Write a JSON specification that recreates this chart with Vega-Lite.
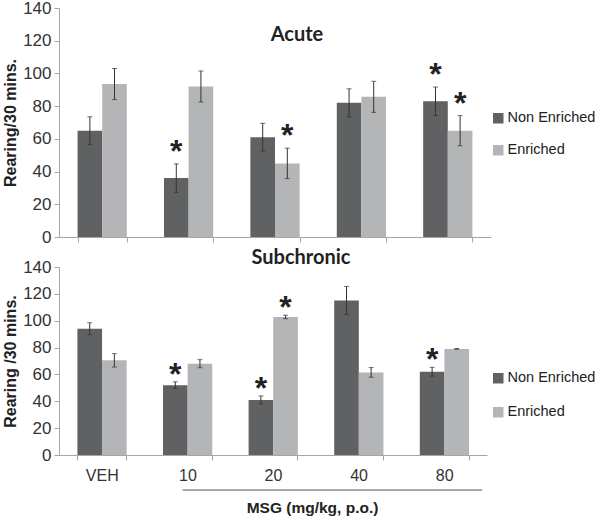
{
  "$schema": "https://vega.github.io/schema/vega-lite/v6.json",
  "background": "white",
  "padding": {"left": 2, "top": -1, "right": 0, "bottom": 0},
  "config": {
    "font": "Liberation Sans",
    "view": {"stroke": null},
    "axis": {"grid": false, "domainColor": "#a6a6a6", "tickColor": "#a6a6a6", "labelColor": "#333333", "titleColor": "#222222", "tickSize": 5},
    "axisY": {"labelOverlap": false, "labelSeparation": 0, "labelBound": false, "tickCount": 8, "labelFontSize": 17, "labelPadding": 3, "titleFontSize": 16, "titleFontWeight": "bold", "titlePadding": 4},
    "legend": {"title": null, "symbolType": "square", "symbolSize": 110, "symbolStrokeWidth": 0, "labelFontSize": 14.5, "labelColor": "#222222", "labelOffset": 2}
  },
  "datasets": {
    "d": [
      {"panel": "Acute", "dose": "VEH", "group": "Non Enriched", "mean": 65, "err": 8.5, "sig": false},
      {"panel": "Acute", "dose": "VEH", "group": "Enriched", "mean": 93.5, "err": 9.5, "sig": false},
      {"panel": "Acute", "dose": "10", "group": "Non Enriched", "mean": 36, "err": 8.7, "sig": true},
      {"panel": "Acute", "dose": "10", "group": "Enriched", "mean": 92, "err": 9.5, "sig": false},
      {"panel": "Acute", "dose": "20", "group": "Non Enriched", "mean": 61, "err": 8.5, "sig": false},
      {"panel": "Acute", "dose": "20", "group": "Enriched", "mean": 45, "err": 9.3, "sig": true},
      {"panel": "Acute", "dose": "40", "group": "Non Enriched", "mean": 82, "err": 8.6, "sig": false},
      {"panel": "Acute", "dose": "40", "group": "Enriched", "mean": 85.7, "err": 9.5, "sig": false},
      {"panel": "Acute", "dose": "80", "group": "Non Enriched", "mean": 83, "err": 8.7, "sig": true},
      {"panel": "Acute", "dose": "80", "group": "Enriched", "mean": 65, "err": 9.2, "sig": true},
      {"panel": "Subchronic", "dose": "VEH", "group": "Non Enriched", "mean": 94, "err": 4.5, "sig": false},
      {"panel": "Subchronic", "dose": "VEH", "group": "Enriched", "mean": 70.5, "err": 5, "sig": false},
      {"panel": "Subchronic", "dose": "10", "group": "Non Enriched", "mean": 52, "err": 2.5, "sig": true},
      {"panel": "Subchronic", "dose": "10", "group": "Enriched", "mean": 68, "err": 3, "sig": false},
      {"panel": "Subchronic", "dose": "20", "group": "Non Enriched", "mean": 41, "err": 3, "sig": true},
      {"panel": "Subchronic", "dose": "20", "group": "Enriched", "mean": 102.8, "err": 1.3, "sig": true},
      {"panel": "Subchronic", "dose": "40", "group": "Non Enriched", "mean": 115, "err": 10.5, "sig": false},
      {"panel": "Subchronic", "dose": "40", "group": "Enriched", "mean": 61.5, "err": 3.6, "sig": false},
      {"panel": "Subchronic", "dose": "80", "group": "Non Enriched", "mean": 62, "err": 3.3, "sig": true},
      {"panel": "Subchronic", "dose": "80", "group": "Enriched", "mean": 79, "err": 0.3, "sig": false}
    ]
  },
  "resolve": {"legend": {"color": "independent"}},
  "spacing": 3,
  "vconcat": [
    {
      "width": 432,
      "height": 229,
      "data": {"name": "d"},
      "title": {"text": "Acute", "font": "Lato", "fontSize": 20, "fontWeight": "bold", "color": "#222222", "anchor": "middle", "dx": 22, "baseline": "middle", "offset": -56},
      "transform": [
        {"filter": "datum.panel === 'Acute'"},
        {"calculate": "datum.mean + datum.err", "as": "hi"},
        {"calculate": "datum.mean - datum.err", "as": "lo"}
      ],
      "encoding": {
        "x": {"field": "dose", "type": "nominal", "sort": ["VEH", "10", "20", "40", "80"], "scale": {"paddingInner": 0.43, "paddingOuter": 0.215}, "axis": {"labels": false, "title": null, "tickBand": "extent"}}
      },
      "layer": [
        {
          "mark": {"type": "bar"},
          "encoding": {
            "xOffset": {"field": "group", "type": "nominal", "sort": ["Non Enriched", "Enriched"], "scale": {"paddingInner": 0, "paddingOuter": 0}},
            "y": {"field": "mean", "type": "quantitative", "scale": {"domain": [0, 140], "nice": false}, "axis": {"values": [0, 20, 40, 60, 80, 100, 120, 140], "labelOverlap": false, "title": "Rearing/30 mins."}},
            "color": {"field": "group", "type": "nominal", "sort": ["Non Enriched", "Enriched"], "scale": {"domain": ["Non Enriched", "Enriched"], "range": ["#606163", "#b4b5b7"]}, "legend": {"orient": "none", "legendX": 432, "legendY": 103, "rowPadding": 17}}
          }
        },
        {
          "mark": {"type": "rule", "color": "#333333", "strokeWidth": 1},
          "encoding": {
            "xOffset": {"field": "group", "type": "nominal", "sort": ["Non Enriched", "Enriched"]},
            "y": {"field": "lo", "type": "quantitative", "scale": {"domain": [0, 140], "nice": false}, "axis": {"values": [0, 20, 40, 60, 80, 100, 120, 140], "labelOverlap": false, "title": "Rearing/30 mins."}},
            "y2": {"field": "hi"}
          }
        },
        {
          "mark": {"type": "tick", "color": "#333333", "size": 5, "thickness": 1, "orient": "horizontal"},
          "encoding": {
            "xOffset": {"field": "group", "type": "nominal", "sort": ["Non Enriched", "Enriched"]},
            "y": {"field": "hi", "type": "quantitative", "scale": {"domain": [0, 140], "nice": false}, "axis": {"values": [0, 20, 40, 60, 80, 100, 120, 140], "labelOverlap": false, "title": "Rearing/30 mins."}}
          }
        },
        {
          "mark": {"type": "tick", "color": "#333333", "size": 5, "thickness": 1, "orient": "horizontal"},
          "encoding": {
            "xOffset": {"field": "group", "type": "nominal", "sort": ["Non Enriched", "Enriched"]},
            "y": {"field": "lo", "type": "quantitative", "scale": {"domain": [0, 140], "nice": false}, "axis": {"values": [0, 20, 40, 60, 80, 100, 120, 140], "labelOverlap": false, "title": "Rearing/30 mins."}}
          }
        },
        {
          "transform": [{"filter": "datum.sig"}],
          "mark": {"type": "text", "text": "*", "fontSize": 32, "fontWeight": "bold", "color": "#222222", "dy": -12},
          "encoding": {
            "xOffset": {"field": "group", "type": "nominal", "sort": ["Non Enriched", "Enriched"]},
            "y": {"field": "hi", "type": "quantitative", "scale": {"domain": [0, 140], "nice": false}, "axis": {"values": [0, 20, 40, 60, 80, 100, 120, 140], "labelOverlap": false, "title": "Rearing/30 mins."}}
          }
        }
      ]
    },
    {
      "width": 428,
      "height": 188,
      "data": {"name": "d"},
      "title": {"text": "Subchronic", "font": "Lato", "fontSize": 20, "fontWeight": "bold", "color": "#222222", "anchor": "middle", "dx": 28, "baseline": "middle", "offset": -20},
      "transform": [
        {"filter": "datum.panel === 'Subchronic'"},
        {"calculate": "datum.mean + datum.err", "as": "hi"},
        {"calculate": "datum.mean - datum.err", "as": "lo"}
      ],
      "encoding": {
        "x": {"field": "dose", "type": "nominal", "sort": ["VEH", "10", "20", "40", "80"], "scale": {"paddingInner": 0.43, "paddingOuter": 0.215}, "axis": {"labelFontSize": 16, "labelPadding": 7, "labelAngle": 0, "tickBand": "extent", "title": "MSG (mg/kg, p.o.)", "titleFontSize": 15.5, "titleFontWeight": "bold", "titleX": 253, "titleY": 52, "titleBaseline": "middle"}}
      },
      "layer": [
        {
          "mark": {"type": "bar"},
          "encoding": {
            "xOffset": {"field": "group", "type": "nominal", "sort": ["Non Enriched", "Enriched"], "scale": {"paddingInner": 0, "paddingOuter": 0}},
            "y": {"field": "mean", "type": "quantitative", "scale": {"domain": [0, 140], "nice": false}, "axis": {"values": [0, 20, 40, 60, 80, 100, 120, 140], "labelOverlap": false, "title": "Rearing /30 mins."}},
            "color": {"field": "group", "type": "nominal", "sort": ["Non Enriched", "Enriched"], "scale": {"domain": ["Non Enriched", "Enriched"], "range": ["#606163", "#b4b5b7"]}, "legend": {"orient": "none", "legendX": 432, "legendY": 104, "rowPadding": 19}}
          }
        },
        {
          "mark": {"type": "rule", "color": "#333333", "strokeWidth": 1},
          "encoding": {
            "xOffset": {"field": "group", "type": "nominal", "sort": ["Non Enriched", "Enriched"]},
            "y": {"field": "lo", "type": "quantitative", "scale": {"domain": [0, 140], "nice": false}, "axis": {"values": [0, 20, 40, 60, 80, 100, 120, 140], "labelOverlap": false, "title": "Rearing /30 mins."}},
            "y2": {"field": "hi"}
          }
        },
        {
          "mark": {"type": "tick", "color": "#333333", "size": 5, "thickness": 1, "orient": "horizontal"},
          "encoding": {
            "xOffset": {"field": "group", "type": "nominal", "sort": ["Non Enriched", "Enriched"]},
            "y": {"field": "hi", "type": "quantitative", "scale": {"domain": [0, 140], "nice": false}, "axis": {"values": [0, 20, 40, 60, 80, 100, 120, 140], "labelOverlap": false, "title": "Rearing /30 mins."}}
          }
        },
        {
          "mark": {"type": "tick", "color": "#333333", "size": 5, "thickness": 1, "orient": "horizontal"},
          "encoding": {
            "xOffset": {"field": "group", "type": "nominal", "sort": ["Non Enriched", "Enriched"]},
            "y": {"field": "lo", "type": "quantitative", "scale": {"domain": [0, 140], "nice": false}, "axis": {"values": [0, 20, 40, 60, 80, 100, 120, 140], "labelOverlap": false, "title": "Rearing /30 mins."}}
          }
        },
        {
          "transform": [{"filter": "datum.sig"}],
          "mark": {"type": "text", "text": "*", "fontSize": 32, "fontWeight": "bold", "color": "#222222", "dy": -7},
          "encoding": {
            "xOffset": {"field": "group", "type": "nominal", "sort": ["Non Enriched", "Enriched"]},
            "y": {"field": "hi", "type": "quantitative", "scale": {"domain": [0, 140], "nice": false}, "axis": {"values": [0, 20, 40, 60, 80, 100, 120, 140], "labelOverlap": false, "title": "Rearing /30 mins."}}
          }
        },
        {
          "transform": [{"aggregate": [{"op": "count", "as": "n"}]}],
          "mark": {"type": "rule", "color": "#555555", "strokeWidth": 1},
          "encoding": {
            "x": {"datum": "10", "bandPosition": 0.4},
            "x2": {"datum": "80", "bandPosition": 1.28},
            "y": {"datum": -26.1, "type": "quantitative", "scale": {"domain": [0, 140], "nice": false}}
          }
        }
      ]
    }
  ]
}
